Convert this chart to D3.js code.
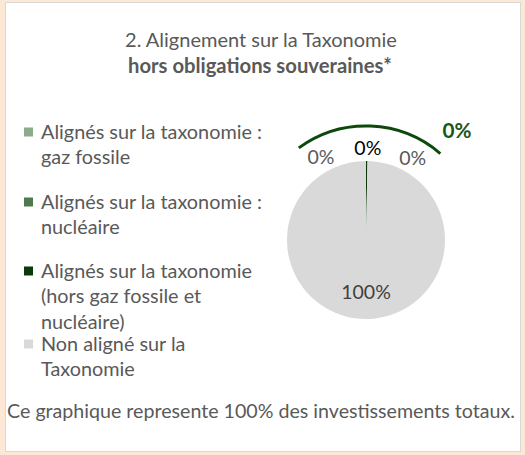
<!DOCTYPE html>
<html><head><meta charset="utf-8">
<script src="https://cdn.jsdelivr.net/npm/d3@7"></script>
<style>html,body{margin:0;padding:0;background:#fce8d5;}svg{display:block;}</style>
</head><body>
<svg id="c" width="525" height="455"></svg>
<script>
const categories = ["Alignés sur la taxonomie : gaz fossile", "Alignés sur la taxonomie : nucléaire", "Alignés sur la taxonomie (hors gaz fossile et nucléaire)", "Non aligné sur la Taxonomie"];
const legendLines = [["Alignés sur la taxonomie :", "gaz fossile"], ["Alignés sur la taxonomie :", "nucléaire"], ["Alignés sur la taxonomie", "(hors gaz fossile et", "nucléaire)"], ["Non aligné sur la", "Taxonomie"]];
const values = [0, 0, 0.3, 99.7];
const labels = ["0%", "0%", "0%", "100%"];
const colors = ["#8caa8c", "#4f7a4f", "#0a3a0a", "#d9d9d9"];
const titleLines = ["2. Alignement sur la Taxonomie", "hors obligations souveraines*"];
const footer = "Ce graphique represente 100% des investissements totaux.";
const calloutLabel = "0%";

const svg = d3.select("#c");
const font = "Lato, 'Open Sans', sans-serif";

// font size that makes a string span a target width
function fitSize(str, target, weight) {
  const t = svg.append("text").attr("font-family", font).attr("font-size", 20).attr("font-weight", weight || "normal").text(str);
  const w = t.node().getComputedTextLength();
  t.remove();
  return 20 * target / w;
}

svg.append("rect").attr("x", 5.5).attr("y", 2.5).attr("width", 515).attr("height", 449)
  .attr("fill", "#fff").attr("stroke", "#d9d9d9").attr("stroke-width", 1);

// title
const ts1 = fitSize(titleLines[0], 272);
const ts2 = fitSize(titleLines[1], 264, "bold");
svg.append("text").attr("x", 261).attr("y", 40).attr("dy", "0.35em").attr("text-anchor", "middle")
  .attr("font-family", font).attr("font-size", ts1).attr("fill", "#595959").text(titleLines[0]);
svg.append("text").attr("x", 260).attr("y", 66).attr("dy", "0.35em").attr("text-anchor", "middle")
  .attr("font-family", font).attr("font-size", ts2).attr("font-weight", "bold").attr("fill", "#595959").text(titleLines[1]);

// legend
const ls = fitSize(legendLines[0][0], 221);
const rowTops = [132, 202, 271, 344];
const lineH = 25.5;
const lg = svg.append("g");
legendLines.forEach((lines, i) => {
  lg.append("rect").attr("x", 24).attr("y", rowTops[i] - 4.5).attr("width", 9).attr("height", 9).attr("fill", colors[i]);
  lines.forEach((l, j) => {
    lg.append("text").attr("x", 41).attr("y", rowTops[i] + j * lineH).attr("dy", "0.35em")
      .attr("font-family", font).attr("font-size", ls).attr("fill", "#595959").text(l);
  });
});

// pie
const cx = 366, cy = 240, R = 79;
const pie = d3.pie().sort(null).value(d => d)(values);
const arc = d3.arc().innerRadius(0).outerRadius(R);
const g = svg.append("g").attr("transform", `translate(${cx},${cy})`);
g.selectAll("path.s").data(pie).join("path").attr("class", "s").attr("d", arc).attr("fill", (d, i) => colors[i]);

// callout arc
const callArc = d3.arc().innerRadius(114).outerRadius(114).startAngle(-0.63).endAngle(0.71);
g.append("path").attr("d", callArc()).attr("fill", "none").attr("stroke", "#0b4a0b").attr("stroke-width", 3);

// labels
const labSize = fitSize("0%", 27);
const labelAngles = [-0.50, 0.02, 0.52];
const labelR = [94, 92, 94];
const labelColors = ["#595959", "#000", "#595959"];
labelAngles.forEach((a, i) => {
  g.append("text").attr("x", Math.sin(a) * labelR[i]).attr("y", -Math.cos(a) * labelR[i]).attr("dy", "0.35em")
    .attr("text-anchor", "middle").attr("font-family", font).attr("font-size", labSize).attr("fill", labelColors[i]).text(labels[i]);
});
g.append("text").attr("x", 0).attr("y", R * 0.66).attr("dy", "0.35em").attr("text-anchor", "middle")
  .attr("font-family", font).attr("font-size", labSize).attr("fill", "#404040").text(labels[3]);
g.append("text").attr("x", Math.sin(0.695) * 142).attr("y", -Math.cos(0.695) * 142).attr("dy", "0.35em")
  .attr("text-anchor", "middle").attr("font-family", font).attr("font-size", fitSize("0%", 29, "bold")).attr("font-weight", "bold").attr("fill", "#1a561a").text(calloutLabel);

// footer
svg.append("text").attr("x", 261).attr("y", 411).attr("dy", "0.35em").attr("text-anchor", "middle")
  .attr("font-family", font).attr("font-size", fitSize(footer, 508)).attr("fill", "#595959").text(footer);
</script>
</body></html>
